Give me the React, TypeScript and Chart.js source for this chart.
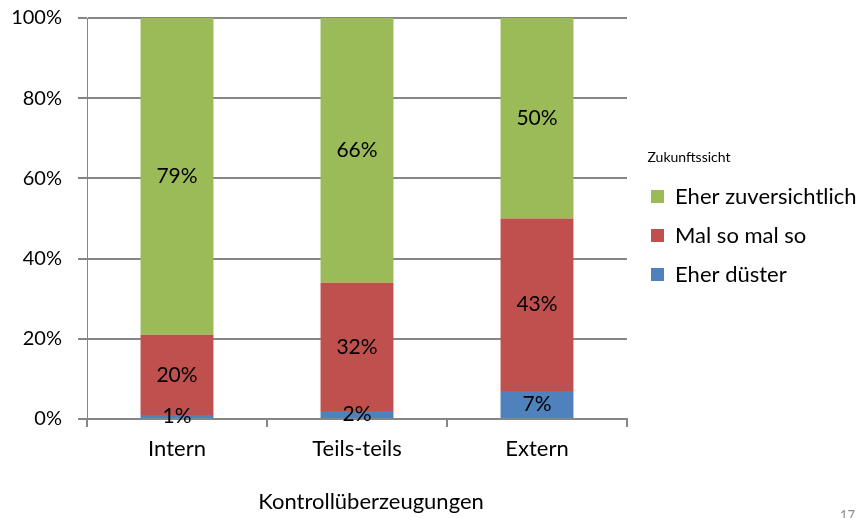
import React, { useEffect, useRef } from "react";
import { Chart, registerables } from "chart.js";

Chart.register(...registerables);

// ---- data ----
const categories = ["Intern", "Teils-teils", "Extern"];
const eherDuester = [1, 2, 7];
const malSoMalSo = [20, 32, 43];
const eherZuversichtlich = [79, 66, 50];
const yTicks = [0, 20, 40, 60, 80, 100];
const seriesLabels = ["Eher düster", "Mal so mal so", "Eher zuversichtlich"];
const legendTitle = "Zukunftssicht";
const xAxisTitle = "Kontrollüberzeugungen";
const pageNumber = "17";

// ---- style ----
const FONT = "Lato";
const BLUE = "#4F81BD";
const RED = "#C0504D";
const GREEN = "#9BBB59";
const GRID = "#868686";

const LEGEND_FONT = 22;
const LEGEND_PAD = 39 - LEGEND_FONT;
const TITLE_FONT = 14;
const LEGEND_SPACE = 232;
const LEGEND_BOX_X = 651;
const ITEM0_Y = 190 - (LEGEND_FONT - 13) / 2;
const TITLE_Y = 157;
const TITLE_CX = 689;
const TITLE_PAD_BOTTOM = Math.max(0, ITEM0_Y - LEGEND_PAD - 0.7 * TITLE_FONT - TITLE_Y);

const legendPlacement = {
  id: "legendPlacement",
  afterInit(chart: any) {
    const lg = chart.legend;
    if (!lg || lg._patched) return;
    const origFit = lg.fit;
    lg.fit = function (this: any) {
      origFit.call(this);
      this.width = LEGEND_SPACE;
    };
    lg._patched = true;
  },
  afterLayout(chart: any) {
    const lg = chart.legend;
    if (!lg || !lg.columnSizes || !lg.columnSizes.length) return;
    const P = LEGEND_PAD;
    const colH = lg.columnSizes[0].height;
    const th = lg._computeTitleHeight();
    const S = 2 * ITEM0_Y - th - P + colH;
    lg.top = 0;
    lg.bottom = S;
    lg.height = S;
    lg.left = LEGEND_BOX_X - P;
    lg.right = chart.width;
    // width only drives where the centred legend title sits
    lg.width = 2 * (TITLE_CX - lg.left);
  },
};

const segmentLabels = {
  id: "segmentLabels",
  afterDatasetsDraw(chart: any) {
    const ctx = chart.ctx;
    ctx.save();
    ctx.font = `21px ${FONT}`;
    ctx.fillStyle = "#000";
    ctx.textAlign = "center";
    ctx.textBaseline = "middle";
    chart.data.datasets.forEach((ds: any, i: number) => {
      const meta = chart.getDatasetMeta(i);
      meta.data.forEach((bar: any, j: number) => {
        const { x, y, base } = bar.getProps(["x", "y", "base"], true);
        ctx.fillText(`${ds.data[j]}%`, x, (y + base) / 2);
      });
    });
    ctx.restore();
  },
};

const extraText = {
  id: "extraText",
  afterDraw(chart: any) {
    const ctx = chart.ctx;
    ctx.save();
    ctx.fillStyle = "#000";
    ctx.font = `22px ${FONT}`;
    ctx.textAlign = "center";
    ctx.textBaseline = "alphabetic";
    ctx.fillText(xAxisTitle, 371, 509);
    ctx.fillStyle = "#8c8c8c";
    ctx.font = `13px ${FONT}`;
    ctx.textAlign = "right";
    ctx.fillText(pageNumber, 855, 520);
    ctx.restore();
  },
};

export default function App() {
  const ref = useRef<HTMLCanvasElement>(null);
  useEffect(() => {
    const canvas = ref.current;
    if (!canvas) return;
    const chart = new Chart(canvas, {
      type: "bar",
      data: {
        labels: categories,
        datasets: [
          { label: seriesLabels[0], data: eherDuester, backgroundColor: BLUE },
          { label: seriesLabels[1], data: malSoMalSo, backgroundColor: RED },
          { label: seriesLabels[2], data: eherZuversichtlich, backgroundColor: GREEN },
        ].map((d) => ({ ...d, borderWidth: 0, barPercentage: 0.405, categoryPercentage: 1 })),
      },
      options: {
        responsive: false,
        animation: false,
        events: [],
        layout: { padding: { top: 18, left: 0, right: 0, bottom: 0 } },
        scales: {
          x: {
            stacked: true,
            grid: {
              display: true,
              offset: true,
              drawOnChartArea: false,
              drawTicks: true,
              tickLength: 8,
              color: GRID,
              lineWidth: 2,
            },
            border: { display: true, color: GRID, width: 2 },
            ticks: { font: { family: FONT, size: 22 }, color: "#000", padding: 9, maxRotation: 0 },
            afterFit: (s: any) => {
              s.height = 99;
            },
          },
          y: {
            stacked: true,
            min: 0,
            max: 100,
            afterBuildTicks: (s: any) => {
              s.ticks = yTicks.map((v) => ({ value: v }));
            },
            ticks: {
              font: { family: FONT, size: 20 },
              color: "#000",
              padding: 16,
              callback: (v: any) => `${v}%`,
            },
            grid: { color: GRID, lineWidth: 2, tickLength: 9, drawTicks: true },
            border: { display: true, color: GRID, width: 1 },
            afterFit: (s: any) => {
              s.width = 87;
              s.paddingTop = 0;
              s.paddingBottom = 0;
            },
          },
        },
        plugins: {
          legend: {
            position: "right",
            align: "center",
            reverse: true,
            title: {
              display: true,
              text: legendTitle,
              position: "center",
              color: "#000",
              font: { family: FONT, size: TITLE_FONT },
              padding: { top: 0, bottom: TITLE_PAD_BOTTOM },
            },
            labels: {
              boxWidth: 13,
              boxHeight: 13,
              padding: LEGEND_PAD,
              color: "#000",
              font: { family: FONT, size: LEGEND_FONT },
            },
          },
          tooltip: { enabled: false },
          title: { display: false },
        },
      } as any,
      plugins: [legendPlacement, segmentLabels, extraText],
    });
    return () => chart.destroy();
  }, []);
  return (
    <div style={{ position: "absolute", left: 0, top: 0, width: 859, height: 518, background: "#fff" }}>
      <canvas ref={ref} width={859} height={518} style={{ display: "block" }} />
    </div>
  );
}
